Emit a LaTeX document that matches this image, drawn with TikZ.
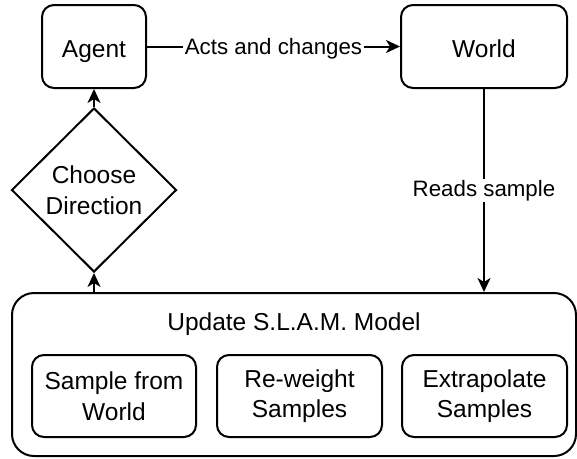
\documentclass[tikz,border=0pt]{standalone}
\usepackage{fontspec}
\setmainfont{Liberation Sans}
\usetikzlibrary{arrows.meta,shapes.geometric}
\begin{document}
\begin{tikzpicture}[x=1pt,y=-1pt,
  nodefont/.style={font=\fontsize{24.5}{30.5}\selectfont},
  box/.style={draw, line width=2pt, rounded corners=12pt, inner sep=0pt, align=center, nodefont},
  lbl/.style={fill=white, inner sep=1.5pt, font=\fontsize{22.3}{27}\selectfont},
  arr/.style={line width=2pt, -{Stealth[length=14pt,width=13pt,inset=4pt]}}]
\useasboundingbox (0,0) rectangle (577,458);
\node[box, minimum width=104pt, minimum height=83pt, text height=21pt, text depth=0pt] (agent) at (94,46.5) {Agent};
\node[box, minimum width=166pt, minimum height=83pt, text height=21pt, text depth=0pt] (world) at (484,46.5) {World};
\node[draw, diamond, line width=2pt, minimum width=165pt, minimum height=164pt, inner sep=0pt, align=center, nodefont] (choose) at (94,190) {Choose\\Direction};
\node[box, rounded corners=22pt, minimum width=564pt, minimum height=163pt] (slam) at (294,374.5) {};
\node[nodefont, inner sep=0pt, anchor=base] (title) at (294,330) {Update S.L.A.M. Model};
\node[box, minimum width=164pt, minimum height=82pt] (s1) at (114,396) {Sample from\\World};
\node[box, minimum width=165pt, minimum height=82pt] (s2) at (299.5,396) {Re-weight\\Samples};
\node[box, minimum width=165pt, minimum height=82pt] (s3) at (484.5,396) {Extrapolate\\Samples};
\draw[arr] (agent) -- node[lbl, text height=16pt, text depth=0pt] {Acts and changes} (world);
\draw[arr] (world.south) -- node[lbl] {Reads sample} (world.south |- slam.north);
\draw[arr] (choose.north) -- (agent.south);
\draw[arr] (choose.south |- slam.north) -- (choose.south);
\end{tikzpicture}
\end{document}
